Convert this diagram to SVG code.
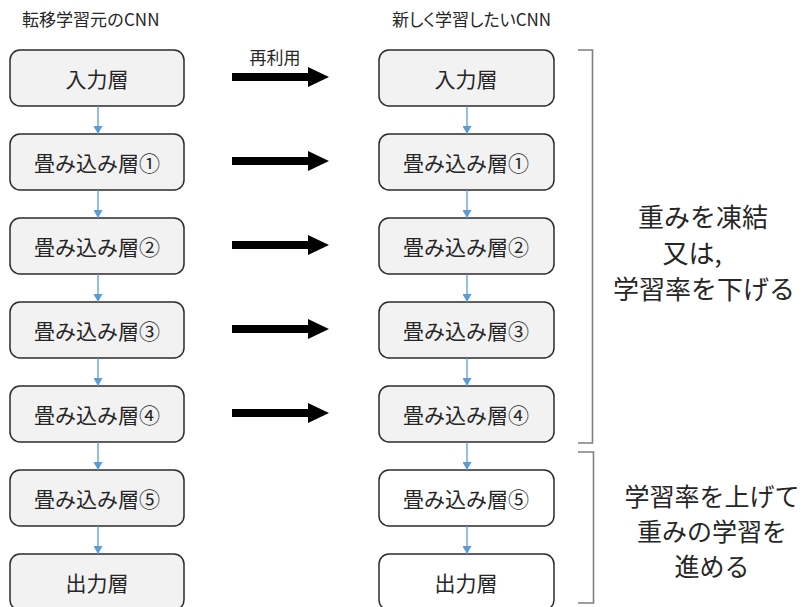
<svg xmlns="http://www.w3.org/2000/svg" width="806" height="607" viewBox="0 0 806 607">
<defs>
<style>
text{font-family:"Noto Sans CJK JP","Noto Sans",sans-serif;fill:#262626;}
.hdr{font-size:17px;}
.lbl{font-size:21px;text-anchor:middle;dominant-baseline:central;}
.big{font-size:26px;text-anchor:middle;dominant-baseline:central;}
.big2{font-size:25px;text-anchor:middle;dominant-baseline:central;}
.box{fill:#f2f2f2;stroke:#2b2b2b;stroke-width:1.5;}
.wbox{fill:#ffffff;stroke:#2b2b2b;stroke-width:1.5;}
.conn{stroke:#5b9bd5;stroke-width:1.3;fill:none;}
.bracket{stroke:#7f7f7f;stroke-width:1.6;fill:none;}
</style>
<marker id="ah" markerWidth="8" markerHeight="9" refX="8" refY="4.5" orient="auto" markerUnits="userSpaceOnUse">
<path d="M0,0 L8,4.5 L0,9 Z" fill="#5b9bd5"/>
</marker>
</defs>
<rect width="806" height="607" fill="#ffffff"/>
<text class="hdr" x="22" y="26">転移学習元のCNN</text>
<text class="hdr" x="392" y="26" style="font-feature-settings:'palt'">新しく学習したいCNN</text>
<text x="275" y="56" style="font-size:17px;text-anchor:middle;dominant-baseline:central">再利用</text>

<g id="L0"><rect class="box" x="10" y="50" width="174" height="56" rx="10"/><text class="lbl" x="97" y="78">入力層</text></g>
<g id="L1"><rect class="box" x="10" y="134" width="174" height="56" rx="10"/><text class="lbl" x="97" y="162">畳み込み層①</text></g>
<g id="L2"><rect class="box" x="10" y="218" width="174" height="56" rx="10"/><text class="lbl" x="97" y="246">畳み込み層②</text></g>
<g id="L3"><rect class="box" x="10" y="302" width="174" height="56" rx="10"/><text class="lbl" x="97" y="330">畳み込み層③</text></g>
<g id="L4"><rect class="box" x="10" y="386" width="174" height="56" rx="10"/><text class="lbl" x="97" y="414">畳み込み層④</text></g>
<g id="L5"><rect class="box" x="10" y="470" width="174" height="56" rx="10"/><text class="lbl" x="97" y="498">畳み込み層⑤</text></g>
<g id="L6"><rect class="box" x="10" y="554" width="174" height="56" rx="10"/><text class="lbl" x="97" y="582">出力層</text></g>

<g id="R0"><rect class="box" x="379" y="50" width="175" height="56" rx="10"/><text class="lbl" x="466" y="78">入力層</text></g>
<g id="R1"><rect class="box" x="379" y="134" width="175" height="56" rx="10"/><text class="lbl" x="466" y="162">畳み込み層①</text></g>
<g id="R2"><rect class="box" x="379" y="218" width="175" height="56" rx="10"/><text class="lbl" x="466" y="246">畳み込み層②</text></g>
<g id="R3"><rect class="box" x="379" y="302" width="175" height="56" rx="10"/><text class="lbl" x="466" y="330">畳み込み層③</text></g>
<g id="R4"><rect class="box" x="379" y="386" width="175" height="56" rx="10"/><text class="lbl" x="466" y="414">畳み込み層④</text></g>
<g id="R5"><rect class="wbox" x="379" y="470" width="175" height="56" rx="10"/><text class="lbl" x="466" y="498">畳み込み層⑤</text></g>
<g id="R6"><rect class="wbox" x="379" y="554" width="175" height="56" rx="10"/><text class="lbl" x="466" y="582">出力層</text></g>

<g id="connectors">
<path class="conn" d="M98,106 V134" marker-end="url(#ah)"/>
<path class="conn" d="M98,190 V218" marker-end="url(#ah)"/>
<path class="conn" d="M98,274 V302" marker-end="url(#ah)"/>
<path class="conn" d="M98,358 V386" marker-end="url(#ah)"/>
<path class="conn" d="M98,442 V470" marker-end="url(#ah)"/>
<path class="conn" d="M98,526 V554" marker-end="url(#ah)"/>
<path class="conn" d="M467,106 V134" marker-end="url(#ah)"/>
<path class="conn" d="M467,190 V218" marker-end="url(#ah)"/>
<path class="conn" d="M467,274 V302" marker-end="url(#ah)"/>
<path class="conn" d="M467,358 V386" marker-end="url(#ah)"/>
<path class="conn" d="M467,442 V470" marker-end="url(#ah)"/>
<path class="conn" d="M467,526 V554" marker-end="url(#ah)"/>
<g fill="#000000">
<path d="M232,73 H308 V67 L329,77 L308,87 V81 H232 Z"/>
<path d="M232,157 H308 V151 L329,161 L308,171 V165 H232 Z"/>
<path d="M232,241 H308 V235 L329,245 L308,255 V249 H232 Z"/>
<path d="M232,325 H308 V319 L329,329 L308,339 V333 H232 Z"/>
<path d="M232,409 H308 V403 L329,413 L308,423 V417 H232 Z"/>
</g>
</g>

<g id="brackets">
<path class="bracket" d="M578,50 H592.5 V443 H578"/>
<path class="bracket" d="M578,452 H593.5 V603 H578"/>
</g>

<g id="note1">
<text class="big" x="703" y="215">重みを凍結</text>
<text class="big" x="692" y="251">又は,</text>
<text class="big" x="704" y="287">学習率を下げる</text>
</g>
<g id="note2">
<text class="big2" x="712" y="495">学習率を上げて</text>
<text class="big2" x="712" y="530">重みの学習を</text>
<text class="big2" x="712" y="565">進める</text>
</g>
</svg>
